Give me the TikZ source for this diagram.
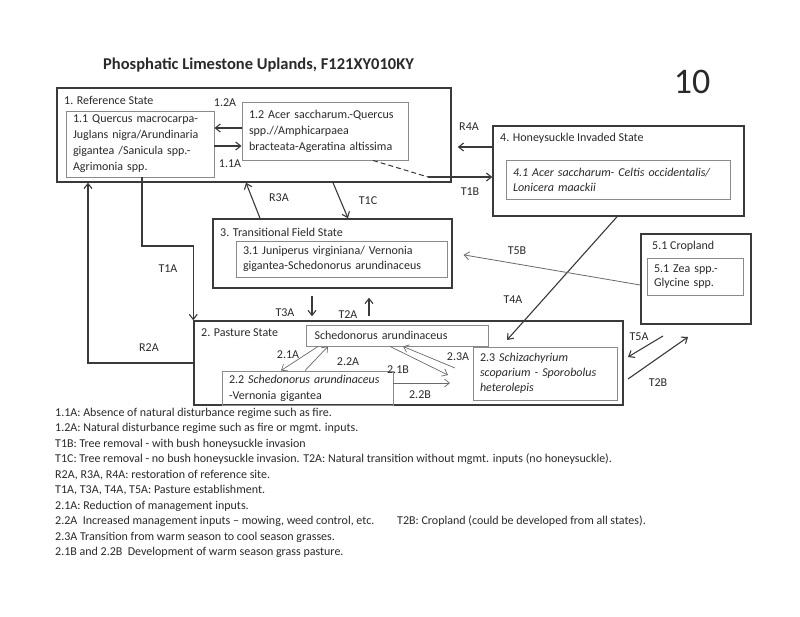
\documentclass[tikz,border=0pt]{standalone}
\usepackage{fontspec}
\setmainfont{Carlito}
\usetikzlibrary{arrows.meta,calc}
\definecolor{txt}{HTML}{2A2A2A}
\definecolor{obox}{HTML}{3A3A3A}
\definecolor{ibox}{HTML}{8A8A8A}
\definecolor{tarr}{HTML}{6A6A6A}
\begin{document}
\begin{tikzpicture}[x=1pt,y=-1pt,font=\fontsize{12}{16}\selectfont,text=txt,
  outerbox/.style={draw=obox,line width=1.5pt,inner sep=0pt},
  innerbox/.style={draw=ibox,line width=0.9pt,inner xsep=7pt,inner ysep=1pt,align=left},
  lbl/.style={inner sep=1pt},
  ttl/.style={inner sep=0pt,anchor=west},
  arr/.style={draw=obox,line width=1.1pt,-{Straight Barb[length=5pt,width=8pt]}},
  tarrow/.style={draw=tarr,line width=0.7pt,-{Straight Barb[length=5pt,width=8pt]}},
  note/.style={inner sep=0pt,anchor=base west}]
\fill[white] (0,0) rectangle (800,617);
\useasboundingbox (0,0) rectangle (800,617);

% title
\node[ttl,font=\fontsize{16.5}{19}\selectfont\bfseries] (title) at (103,65) {Phosphatic Limestone Uplands, F121XY010KY};
\node[inner sep=0pt,font=\fontsize{36}{40}\selectfont] (num) at (692,82) {10};

% outer state boxes
\node[outerbox,minimum width=394pt,minimum height=94pt] (ref) at (254,135) {};
\node[outerbox,minimum width=251pt,minimum height=90pt] (hon) at (618.5,171) {};
\node[outerbox,minimum width=239pt,minimum height=69pt] (trans) at (332.5,253.5) {};
\node[outerbox,minimum width=429pt,minimum height=84pt] (past) at (408.5,363) {};
\node[outerbox,minimum width=110pt,minimum height=90pt] (crop) at (696,279) {};

% state titles
\node[ttl] (tref) at (64,100) {1. Reference State};
\node[ttl] (thon) at (500,138) {4. Honeysuckle Invaded State};
\node[ttl] (ttrans) at (220,232) {3. Transitional Field State};
\node[ttl] (tpast) at (201,333) {2. Pasture State};
\node[ttl] (tcrop) at (652,246) {5.1 Cropland};

% community boxes
\node[innerbox,text width=134pt,minimum height=66pt] (b11) at (140,144)
  {1.1 Quercus macrocarpa-\\Juglans nigra/Arundinaria\\gigantea /Sanicula spp.-\\Agrimonia spp.};
\node[innerbox,text width=152pt,minimum height=58pt] (b12) at (325,131)
  {1.2 Acer saccharum.-Quercus\\spp.//Amphicarpaea\\bracteata-Ageratina altissima};
\node[innerbox,text width=210pt,minimum height=39pt,font=\fontsize{12}{15}\selectfont\itshape] (b41) at (618,179.5)
  {4.1 Acer saccharum- Celtis occidentalis/\\Lonicera maackii};
\node[innerbox,text width=197pt,minimum height=36pt,font=\fontsize{12}{15}\selectfont] (b31) at (341.5,259)
  {3.1 Juniperus virginiana/ Vernonia\\gigantea-Schedonorus arundinaceus};
\node[innerbox,text width=82pt,minimum height=37pt,font=\fontsize{12}{14.5}\selectfont] (b51) at (695,276.5)
  {5.1 Zea spp.-\\Glycine spp.};
\node[innerbox,text width=166pt,minimum height=21pt,inner xsep=8pt] (bsa) at (397.5,335.5)
  {Schedonorus arundinaceus};
\node[innerbox,text width=157pt,minimum height=34pt] (b22) at (307.5,388)
  {2.2 \textit{Schedonorus arundinaceus}\\-Vernonia gigantea};
\node[innerbox,text width=130pt,minimum height=53pt,font=\fontsize{12}{15}\selectfont] (b23) at (545,373.5)
  {2.3 \textit{Schizachyrium}\\\textit{scoparium - Sporobolus}\\\textit{heterolepis}};

% free-end coordinates
\coordinate (t1bc) at (428,177);
\coordinate (bendT1A) at (142,246);
\coordinate (t4aend) at (507,340);
\coordinate (t5a1) at (663,336);
\coordinate (t5a2) at (628,357);
\coordinate (t2b1) at (628,379);
\coordinate (t2b2) at (688,337);
\coordinate (b21bend) at (448,375);
\coordinate (b22bend) at (450,383);
\coordinate (b23start) at (455,368);

% connectors
\draw[arr] (b12.west |- 0,128) -- (b11.east |- 0,128);
\draw[arr] (b11.east |- 0,146) -- (b12.west |- 0,146);
\draw[obox,line width=1pt,dash pattern=on 5pt off 3pt] (b12.south -| 373,0) -- (t1bc);
\draw[arr] (t1bc) -- (hon.west |- t1bc);
\draw[arr,shorten >=6pt] (hon.west |- 0,147) -- (ref.east |- 0,147);
\draw[arr] (trans.north -| 260,0) -- (ref.south -| 246,0);
\draw[arr] (ref.south -| 333,0) -- (trans.north -| 348,0);
\draw[arr] (b11.south -| bendT1A) -- (bendT1A) -| (past.north west);
\draw[arr] (past.west |- 0,363) -| (ref.south -| 88,0);
\draw[arr,shorten <=7pt,shorten >=4pt] (trans.south -| 312,0) -- (past.north -| 312,0);
\draw[arr,shorten <=4pt,shorten >=9pt] (past.north -| 369,0) -- (trans.south -| 369,0);
\draw[arr] (hon.south -| 617,0) -- (t4aend);
\draw[tarrow,line width=0.8pt,shorten >=11pt] (crop.west |- 0,285) -- (trans.east |- 0,253);
\draw[arr] (t5a1) -- (t5a2);
\draw[arr] (t2b1) -- (t2b2);

% pasture internal transitions
\draw[tarrow] (bsa.south -| 318,0) -- (b22.north -| 281,0);
\draw[tarrow] (b22.north -| 305,0) -- (bsa.south -| 328,0);
\draw[tarrow] (bsa.south -| 390,0) -- (b21bend);
\draw[tarrow] (b22.east |- 0,383) -- (b22bend);
\draw[tarrow] (b23start) -- (bsa.south -| 403,0);

% connector labels
\node[lbl] (l12a) at (225,103) {1.2A};
\node[lbl] (l11a) at (230,164) {1.1A};
\node[lbl] (lr4a) at (469,127) {R4A};
\node[lbl] (lt1b) at (470,192) {T1B};
\node[lbl] (lr3a) at (279,198) {R3A};
\node[lbl] (lt1c) at (368,201) {T1C};
\node[lbl] (lt1a) at (168,269) {T1A};
\node[lbl] (lr2a) at (149,348) {R2A};
\node[lbl] (lt5b) at (517,251) {T5B};
\node[lbl] (lt4a) at (513,300) {T4A};
\node[lbl] (lt3a) at (285,313) {T3A};
\node[lbl] (lt2a) at (348,315) {T2A};
\node[lbl] (l21a) at (288,355) {2.1A};
\node[lbl] (l22a) at (348,362) {2.2A};
\node[lbl] (l21b) at (398,370) {2.1B};
\node[lbl] (l22b) at (420,395) {2.2B};
\node[lbl] (l23a) at (458,357) {2.3A};
\node[lbl] (lt5a) at (639,337) {T5A};
\node[lbl] (lt2b) at (658,383) {T2B};

% notes
\node[note] (n1) at (55,416) {1.1A: Absence of natural disturbance regime such as fire.};
\node[note] (n2) at (55,431.5) {1.2A: Natural disturbance regime such as fire or mgmt. inputs.};
\node[note] (n3) at (55,447) {T1B: Tree removal - with bush honeysuckle invasion};
\node[note] (n4) at (55,462.5) {T1C: Tree removal - no bush honeysuckle invasion. T2A: Natural transition without mgmt. inputs (no honeysuckle).};
\node[note] (n5) at (55,478) {R2A, R3A, R4A: restoration of reference site.};
\node[note] (n6) at (55,493.5) {T1A, T3A, T4A, T5A: Pasture establishment.};
\node[note] (n7) at (55,509) {2.1A: Reduction of management inputs.};
\node[note] (n8) at (55,524.5) {2.2A\ \ Increased management inputs – mowing, weed control, etc.};
\node[note] (n8b) at (397,524.5) {T2B: Cropland (could be developed from all states).};
\node[note] (n9) at (55,540) {2.3A Transition from warm season to cool season grasses.};
\node[note] (n10) at (55,555.5) {2.1B and 2.2B\ \ Development of warm season grass pasture.};
\end{tikzpicture}
\end{document}
